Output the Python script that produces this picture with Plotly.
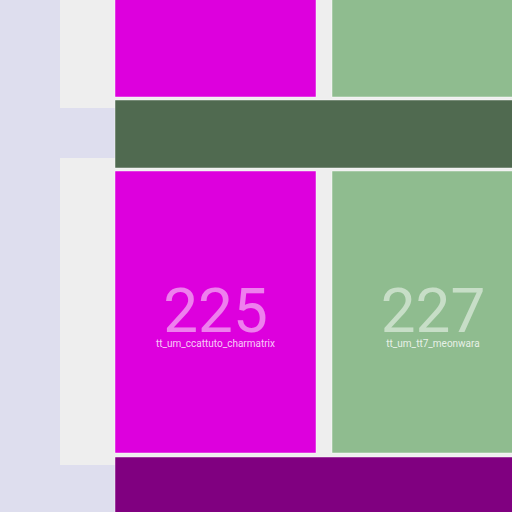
import plotly.graph_objects as go

# Tile layout (die units, y grows downward)
tile_ids = ["", "", "", "225", "227", ""]
tile_names = ["", "", "", "tt_um_ccattuto_charmatrix", "tt_um_tt7_meonwara", ""]
tile_x0 = [115, 332, 115, 115, 332, 115]
tile_x1 = [316, 534, 534, 316, 534, 534]
tile_y0 = [-184, -184, 100, 171, 171, 457]
tile_y1 = [97, 97, 168, 453, 453, 700]
tile_colors = ["#dd00dd", "#8fbc8f", "#506a50", "#dd00dd", "#8fbc8f", "#800080"]

# Background regions (mux / routing areas)
bg_x0 = [115, 60, 60]
bg_x1 = [560, 115, 115]
bg_y0 = [-300, -300, 158]
bg_y1 = [700, 108, 465]

fig = go.Figure()

def rect(x0, x1, y0, y1):
    return [x0, x1, x1, x0, x0], [y0, y0, y1, y1, y0]

for a, b, c, d in zip(bg_x0, bg_x1, bg_y0, bg_y1):
    xs, ys = rect(a, b, c, d)
    fig.add_trace(go.Scatter(x=xs, y=ys, fill="toself", fillcolor="#eeeeee",
                             mode="lines", line=dict(width=0), hoverinfo="skip"))

for a, b, c, d, col in zip(tile_x0, tile_x1, tile_y0, tile_y1, tile_colors):
    xs, ys = rect(a, b, c, d)
    fig.add_trace(go.Scatter(x=xs, y=ys, fill="toself", fillcolor=col,
                             mode="lines", line=dict(width=1, color="rgba(255,255,255,0.45)"),
                             hoverinfo="skip"))

cx = [(a + b) / 2 for a, b in zip(tile_x0, tile_x1)]
cy = [(c + d) / 2 for c, d in zip(tile_y0, tile_y1)]
sel = [i for i, t in enumerate(tile_ids) if t]
fig.add_trace(go.Scatter(x=[cx[i] for i in sel], y=[cy[i] + 4 for i in sel],
                         text=[tile_ids[i] for i in sel], mode="text",
                         textfont=dict(family="Roboto", size=62, color="rgba(255,255,255,0.5)"),
                         hoverinfo="skip"))
fig.add_trace(go.Scatter(x=[cx[i] for i in sel], y=[cy[i] + 32 for i in sel],
                         text=[tile_names[i] for i in sel], mode="text",
                         textfont=dict(family="Roboto", size=10, color="rgba(255,255,255,0.8)"),
                         hoverinfo="skip"))

fig.update_layout(
    width=512, height=512, margin=dict(l=0, r=0, t=0, b=0),
    paper_bgcolor="#dedeee", plot_bgcolor="#dedeee", showlegend=False,
    xaxis=dict(range=[0, 512], visible=False, fixedrange=True),
    yaxis=dict(range=[512, 0], visible=False, fixedrange=True),
)
fig.write_html("out.html")
